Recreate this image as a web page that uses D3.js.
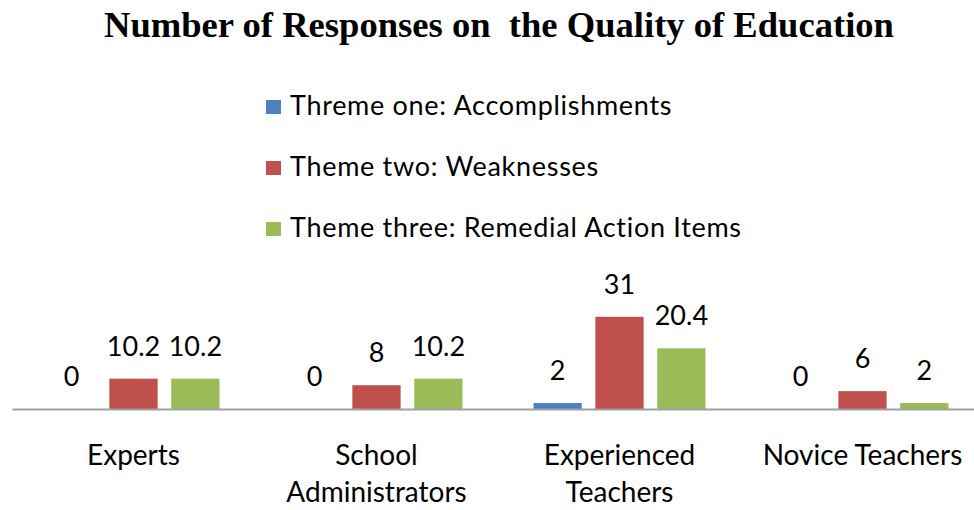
<!DOCTYPE html>
<html>
<head>
<meta charset="utf-8">
<script src="https://cdn.jsdelivr.net/npm/d3@7"></script>
<style>
  body { margin: 0; background: #fff; }
  svg { display: block; }
  text { fill: #000; }
</style>
</head>
<body>
<svg id="chart" viewBox="0 0 974 510" width="974" height="510"></svg>
<script>
// values
const categories = ["Experts", "School Administrators", "Experienced Teachers", "Novice Teachers"]
const tickLines = [["Experts"], ["School", "Administrators"], ["Experienced", "Teachers"], ["Novice Teachers"]]
const seriesNames = ["Threme one: Accomplishments", "Theme two: Weaknesses", "Theme three: Remedial Action Items"]
const accomplishments = [0, 0, 2, 0]
const weaknesses = [10.2, 8, 31, 6]
const remedial = [10.2, 10.2, 20.4, 2]
const colors = ["#4f81bd", "#c0504d", "#9bbb59"]
const titleText = "Number of Responses on  the Quality of Education"

const series = [accomplishments, weaknesses, remedial]

const svg = d3.select("#chart")
const width = 974, height = 510
const baseY = 409

//title
svg.append("text")
    .attr("x", 499)
    .attr("y", 37)
    .attr("text-anchor", "middle")
    .style("font-family", "'Liberation Serif', 'Times New Roman', serif")
    .style("font-weight", "bold")
    .style("font-size", "36.6px")
    .style("white-space", "pre")
    .text(titleText)

// legend
const legend = svg.append("g").attr("transform", "translate(266,0)")
seriesNames.forEach((name, i) => {
    const g = legend.append("g").attr("transform", `translate(0,${115 + i * 61})`)
    g.append("rect")
        .attr("x", 0).attr("y", -15)
        .attr("width", 15).attr("height", 14)
        .attr("fill", colors[i])
    g.append("text")
        .attr("x", 24).attr("y", 0)
        .style("font-family", "Lato, sans-serif")
        .style("font-size", "27px")
        .style("letter-spacing", "0.7px")
        .text(name)
})

// scales
const x0 = d3.scaleBand()
    .domain(categories)
    .range([12, 984])
    .padding(0)

const x1 = d3.scaleBand()
    .domain(d3.range(series.length))
    .range([-86, 86])
    .paddingInner(0.22)

const y = d3.scaleLinear()
    .domain([0, 40])
    .range([baseY, 290])

const groups = svg.append("g")
    .selectAll("g")
    .data(categories)
    .join("g")
    .attr("transform", d => `translate(${x0(d) + x0.bandwidth() / 2},0)`)

groups.selectAll("rect")
    .data((d, ci) => series.map((s, si) => ({si: si, v: s[ci]})))
    .join("rect")
    .attr("x", d => x1(d.si))
    .attr("width", x1.bandwidth())
    .attr("y", d => y(d.v))
    .attr("height", d => baseY - y(d.v))
    .attr("fill", d => colors[d.si])

groups.selectAll("text.val")
    .data((d, ci) => series.map((s, si) => ({si: si, v: s[ci]})))
    .join("text")
    .attr("class", "val")
    .attr("x", d => x1(d.si) + x1.bandwidth() / 2)
    .attr("y", d => y(d.v) - 23)
    .attr("text-anchor", "middle")
    .style("font-family", "Lato, sans-serif")
    .style("font-size", "27px")
    .text(d => d.v)

// x axis
const xAxis = svg.append("g")
    .attr("transform", `translate(0,${baseY})`)
    .call(d3.axisBottom(x0).tickSize(0).tickSizeOuter(0).tickFormat(""))
xAxis.select(".domain")
    .attr("stroke", "#a0a0a0")
    .attr("stroke-width", 2)

xAxis.selectAll(".tick").each(function (d, i) {
    const t = d3.select(this).append("text")
        .attr("text-anchor", "middle")
        .attr("fill", "#000")
        .style("font-family", "Lato, sans-serif")
        .style("font-size", "28px")
    tickLines[i].forEach((line, j) => {
        t.append("tspan")
            .attr("x", 0)
            .attr("y", 56 + j * 37)
            .text(line)
    })
})
</script>
</body>
</html>
